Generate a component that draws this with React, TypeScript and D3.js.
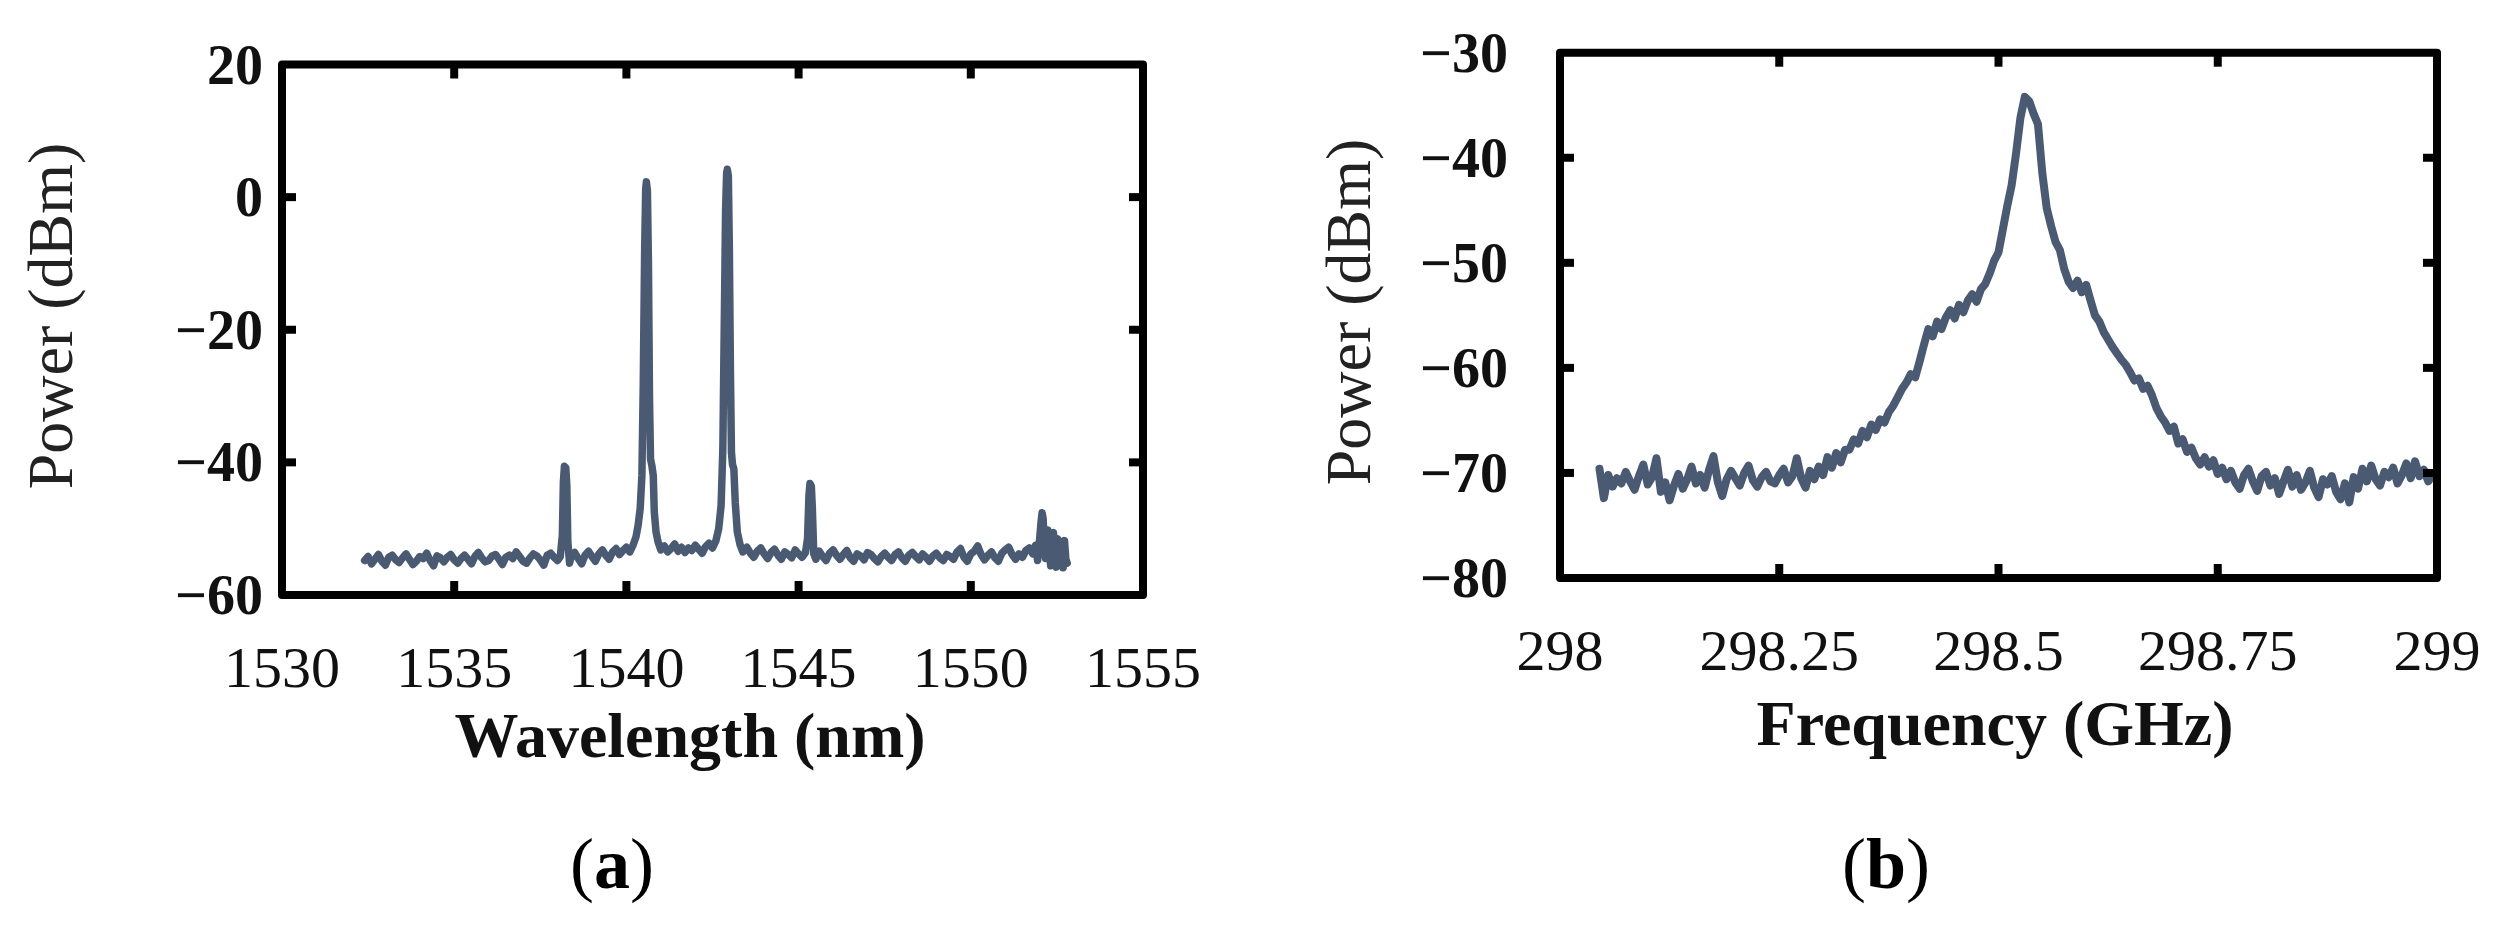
import React from 'react';
import * as d3 from 'd3';

// ---------- DATA ----------
// Panel (a): optical spectrum, [wavelength nm, power dBm]
const spectrumA: [number, number][] = [
  [1532.4,-54.8],[1532.5,-54.2],[1532.6,-55.3],[1532.7,-54.6],[1532.8,-53.9],[1532.9,-54.9],[1533.0,-55.5],[1533.1,-54.3],[1533.2,-54.0],[1533.3,-54.7],
  [1533.4,-55.1],[1533.5,-54.4],[1533.6,-53.8],[1533.7,-54.6],[1533.8,-55.4],[1533.9,-54.9],[1534.0,-54.2],[1534.1,-54.5],[1534.2,-53.7],[1534.3,-54.8],
  [1534.4,-55.6],[1534.5,-54.1],[1534.6,-54.4],[1534.7,-55.0],[1534.8,-54.3],[1534.9,-53.9],[1535.0,-54.7],[1535.1,-55.2],[1535.2,-54.5],[1535.3,-54.0],
  [1535.4,-54.6],[1535.5,-55.3],[1535.6,-54.2],[1535.7,-53.6],[1535.8,-54.4],[1535.9,-55.0],[1536.0,-54.8],[1536.1,-54.1],[1536.2,-53.9],[1536.3,-54.6],
  [1536.4,-55.4],[1536.5,-54.3],[1536.6,-54.0],[1536.7,-54.5],[1536.8,-53.5],[1536.9,-54.2],[1537.0,-54.9],[1537.1,-55.2],[1537.2,-54.4],[1537.3,-53.8],
  [1537.4,-54.1],[1537.5,-54.7],[1537.6,-55.5],[1537.7,-54.0],[1537.8,-53.7],[1537.9,-54.3],[1538.0,-54.8],
  [1538.08,-54.2],[1538.14,-51.0],[1538.17,-43.0],[1538.2,-40.6],[1538.24,-40.8],[1538.27,-43.5],[1538.3,-52.0],[1538.35,-55.2],
  [1538.4,-54.1],[1538.5,-53.6],[1538.6,-54.5],[1538.7,-55.3],[1538.8,-54.0],[1538.9,-53.4],[1539.0,-54.2],[1539.1,-54.9],[1539.2,-53.8],[1539.3,-53.2],
  [1539.4,-54.0],[1539.5,-54.6],[1539.6,-53.5],[1539.7,-53.0],[1539.8,-53.9],[1539.9,-53.3],[1540.0,-52.8],[1540.1,-53.5],[1540.2,-52.4],
  [1540.28,-51.2],[1540.34,-49.5],[1540.4,-47.0],[1540.45,-42.0],[1540.49,-28.0],[1540.53,-8.0],[1540.56,1.2],[1540.58,2.3],[1540.61,1.0],[1540.64,-10.0],
  [1540.67,-30.0],[1540.7,-39.5],[1540.74,-40.5],[1540.78,-42.0],[1540.81,-47.5],[1540.86,-50.5],[1540.92,-52.0],[1541.0,-53.2],
  [1541.1,-52.6],[1541.2,-53.5],[1541.3,-53.0],[1541.4,-52.3],[1541.5,-53.4],[1541.6,-52.8],[1541.7,-53.6],[1541.8,-52.9],[1541.9,-53.3],[1542.0,-52.5],
  [1542.1,-53.1],[1542.2,-53.7],[1542.3,-52.7],[1542.4,-52.2],[1542.5,-52.9],
  [1542.6,-51.8],[1542.68,-50.0],[1542.75,-46.5],[1542.8,-38.0],[1542.84,-20.0],[1542.88,-2.0],[1542.91,3.6],[1542.93,4.2],[1542.96,3.2],[1542.99,-8.0],
  [1543.02,-26.0],[1543.05,-38.5],[1543.08,-40.3],[1543.12,-41.0],[1543.16,-46.0],[1543.22,-50.5],[1543.3,-52.4],[1543.38,-53.5],
  [1543.5,-52.8],[1543.6,-53.7],[1543.7,-54.3],[1543.8,-53.4],[1543.9,-52.9],[1544.0,-53.8],[1544.1,-54.5],[1544.2,-53.6],[1544.3,-53.1],[1544.4,-54.0],
  [1544.5,-54.6],[1544.6,-53.5],[1544.7,-53.9],[1544.8,-54.4],[1544.9,-53.2],[1545.0,-53.8],[1545.1,-54.3],[1545.2,-53.6],
  [1545.26,-51.5],[1545.3,-45.0],[1545.33,-43.2],[1545.37,-43.6],[1545.4,-47.0],[1545.44,-53.8],[1545.5,-54.6],
  [1545.6,-53.4],[1545.7,-54.2],[1545.8,-54.8],[1545.9,-53.7],[1546.0,-53.2],[1546.1,-54.0],[1546.2,-54.6],[1546.3,-53.9],[1546.4,-53.3],[1546.5,-54.4],
  [1546.6,-54.9],[1546.7,-53.8],[1546.8,-54.1],[1546.9,-54.7],[1547.0,-53.6],[1547.1,-53.9],[1547.2,-54.5],[1547.3,-55.0],[1547.4,-54.2],[1547.5,-53.7],
  [1547.6,-54.3],[1547.7,-54.8],[1547.8,-53.9],[1547.9,-53.5],[1548.0,-54.4],[1548.1,-54.9],[1548.2,-54.0],[1548.3,-53.6],[1548.4,-54.2],[1548.5,-54.7],
  [1548.6,-53.8],[1548.7,-54.3],[1548.8,-54.9],[1548.9,-54.1],[1549.0,-53.7],[1549.1,-54.4],[1549.2,-54.8],[1549.3,-53.9],[1549.4,-54.2],[1549.5,-54.6],
  [1549.6,-53.5],[1549.7,-53.0],[1549.8,-54.3],[1549.9,-54.9],[1550.0,-53.8],[1550.1,-53.4],[1550.2,-52.6],[1550.3,-53.9],[1550.4,-54.7],[1550.5,-54.0],
  [1550.6,-53.5],[1550.7,-54.4],[1550.8,-54.9],[1550.9,-53.7],[1551.0,-53.2],[1551.1,-52.8],[1551.2,-53.9],[1551.3,-54.6],[1551.4,-53.8],[1551.5,-54.3],
  [1551.6,-53.3],[1551.7,-52.9],[1551.8,-53.8],
  [1551.88,-52.5],[1551.94,-54.8],[1552.0,-51.5],[1552.04,-49.0],[1552.07,-47.6],[1552.1,-48.5],[1552.13,-51.8],[1552.17,-54.5],[1552.2,-50.8],[1552.24,-50.2],
  [1552.28,-53.5],[1552.32,-55.6],[1552.36,-51.2],[1552.4,-50.6],[1552.44,-54.8],[1552.48,-55.8],[1552.52,-51.5],[1552.56,-52.0],[1552.6,-55.5],[1552.64,-52.2],
  [1552.68,-55.9],[1552.72,-51.8],[1552.76,-54.6],[1552.8,-55.2]
];

// Panel (b): beat-note spectrum, [frequency GHz, power dBm]
const spectrumB: [number, number][] = [
  [298.045,-69.6],[298.050,-72.4],[298.055,-70.2],[298.060,-71.3],[298.065,-70.5],[298.070,-71.0],[298.075,-69.9],[298.080,-70.8],[298.085,-71.6],[298.090,-70.3],
  [298.095,-69.2],[298.100,-71.1],[298.105,-70.4],[298.110,-68.6],[298.115,-71.8],[298.120,-70.9],[298.125,-72.6],[298.130,-71.2],[298.135,-70.1],[298.140,-71.5],
  [298.145,-70.6],[298.150,-69.4],[298.155,-71.0],[298.160,-70.2],[298.165,-71.4],[298.170,-69.7],[298.175,-68.4],[298.180,-70.9],[298.185,-72.2],[298.190,-70.6],
  [298.195,-69.8],[298.200,-70.5],[298.205,-71.2],[298.210,-70.0],[298.215,-69.3],[298.220,-70.7],[298.225,-71.3],[298.230,-70.4],[298.235,-69.9],[298.240,-70.8],
  [298.245,-71.0],[298.250,-70.2],[298.255,-69.6],[298.260,-70.9],[298.265,-70.3],[298.270,-68.6],[298.275,-70.5],[298.280,-71.4],[298.285,-69.8],[298.290,-70.6],
  [298.295,-69.4],[298.300,-70.2],[298.305,-68.5],[298.310,-69.5],[298.315,-68.1],[298.320,-69.0],[298.325,-67.8],[298.330,-67.8],[298.335,-66.8],[298.340,-67.2],
  [298.345,-66.0],[298.350,-66.6],[298.355,-65.4],[298.360,-65.9],[298.365,-64.9],[298.370,-65.2],[298.375,-64.2],[298.380,-63.6],[298.385,-62.8],[298.390,-62.0],
  [298.395,-61.4],[298.400,-60.6],[298.405,-60.9],[298.410,-59.4],[298.415,-57.8],[298.420,-56.3],[298.425,-57.0],[298.430,-55.6],[298.435,-56.3],[298.440,-55.2],
  [298.445,-54.5],[298.450,-55.3],[298.455,-54.0],[298.460,-54.7],[298.465,-53.6],[298.470,-53.0],[298.475,-53.7],[298.480,-52.5],[298.485,-52.0],[298.490,-51.0],
  [298.495,-49.8],[298.500,-49.0],[298.505,-46.8],[298.510,-44.6],[298.515,-42.6],[298.520,-39.6],[298.525,-36.2],[298.530,-34.2],[298.535,-34.6],[298.540,-35.8],
  [298.545,-36.8],[298.550,-41.5],[298.555,-44.8],[298.560,-46.5],[298.565,-48.0],[298.570,-48.8],[298.575,-50.6],[298.580,-51.8],[298.585,-52.4],[298.590,-51.7],
  [298.595,-52.8],[298.600,-52.1],[298.605,-53.6],[298.610,-55.0],[298.615,-55.6],[298.620,-56.6],[298.625,-57.3],[298.630,-58.0],[298.635,-58.6],[298.640,-59.2],
  [298.645,-59.7],[298.650,-60.4],[298.655,-61.2],[298.660,-61.0],[298.665,-62.0],[298.670,-61.7],[298.675,-62.6],[298.680,-63.8],[298.685,-64.6],[298.690,-65.2],
  [298.695,-66.0],[298.700,-65.6],[298.705,-67.2],[298.710,-66.8],[298.715,-68.0],[298.720,-67.6],[298.725,-68.6],[298.730,-69.2],[298.735,-68.5],[298.740,-69.4],
  [298.745,-68.8],[298.750,-70.1],[298.755,-69.5],[298.760,-70.6],[298.765,-69.8],[298.770,-70.9],[298.775,-71.5],[298.780,-70.2],[298.785,-69.6],[298.790,-70.8],
  [298.795,-71.7],[298.800,-70.3],[298.805,-69.9],[298.810,-71.2],[298.815,-70.5],[298.820,-72.0],[298.825,-70.8],[298.830,-69.7],[298.835,-71.3],[298.840,-70.2],
  [298.845,-71.6],[298.850,-70.9],[298.855,-69.8],[298.860,-71.4],[298.865,-72.3],[298.870,-70.6],[298.875,-71.1],[298.880,-70.3],[298.885,-71.8],[298.890,-72.5],
  [298.895,-71.0],[298.900,-72.8],[298.905,-70.4],[298.910,-71.5],[298.915,-69.6],[298.920,-70.8],[298.925,-69.3],[298.930,-70.6],[298.935,-71.2],[298.940,-69.9],
  [298.945,-70.4],[298.950,-69.5],[298.955,-71.0],[298.960,-70.2],[298.965,-69.1],[298.970,-70.5],[298.975,-68.9],[298.980,-70.3],[298.985,-69.7],[298.990,-70.8],
  [298.995,-70.2]
];

const domainAX: [number, number] = [1530, 1555];
const domainAY: [number, number] = [-60, 20];
const ticksAX = [1530, 1535, 1540, 1545, 1550, 1555];
const ticksAY = [20, 0, -20, -40, -60];

const domainBX: [number, number] = [298, 299];
const domainBY: [number, number] = [-80, -30];
const ticksBX = [298, 298.25, 298.5, 298.75, 299];
const ticksBXLabels = ['298', '298.25', '298.5', '298.75', '299'];
const ticksBY = [-30, -40, -50, -60, -70, -80];

// ---------- STYLE ----------
const FONT = '"Liberation Serif", "Times New Roman", serif';
const LINE = '#4a5a73';

const fmtNeg = (v: number) => (v < 0 ? '\u2212' + Math.abs(v) : String(v));

type PanelProps = {
  data: [number, number][];
  dx: [number, number];
  dy: [number, number];
  box: { x0: number; x1: number; y0: number; y1: number };
  xt: number[];
  xtLabels: string[];
  yt: number[];
  xLabelY: number;
  yLabelX: number;
  xTitle: string;
  xTitleX: number;
  xTitleY: number;
  yTitleX: number;
  yTitleY: number;
  tag: string;
  tagX: number;
  lineW: number;
  axisW: number;
};

function Panel(p: PanelProps) {
  const x = d3.scaleLinear().domain(p.dx).range([p.box.x0, p.box.x1]);
  const y = d3.scaleLinear().domain(p.dy).range([p.box.y1, p.box.y0]);
  const line = d3.line<[number, number]>().x(d => x(d[0])).y(d => y(d[1]));
  const tickLen = 14;
  const innerX = p.xt.filter(v => v > p.dx[0] && v < p.dx[1]);
  const innerY = p.yt.filter(v => v > p.dy[0] && v < p.dy[1]);
  return (
    <g>
      <path d={line(p.data) || ''} fill="none" stroke={LINE} strokeWidth={p.lineW} strokeLinejoin="round" strokeLinecap="round" />
      <rect x={p.box.x0} y={p.box.y0} width={p.box.x1 - p.box.x0} height={p.box.y1 - p.box.y0}
        fill="none" stroke="#000" strokeWidth={p.axisW} strokeLinejoin="round" />
      {innerX.map(v => (
        <g key={'tx' + v}>
          <line x1={x(v)} x2={x(v)} y1={p.box.y1} y2={p.box.y1 - tickLen} stroke="#000" strokeWidth={p.axisW} />
          <line x1={x(v)} x2={x(v)} y1={p.box.y0} y2={p.box.y0 + tickLen} stroke="#000" strokeWidth={p.axisW} />
        </g>
      ))}
      {innerY.map(v => (
        <g key={'ty' + v}>
          <line x1={p.box.x0} x2={p.box.x0 + tickLen} y1={y(v)} y2={y(v)} stroke="#000" strokeWidth={p.axisW} />
          <line x1={p.box.x1} x2={p.box.x1 - tickLen} y1={y(v)} y2={y(v)} stroke="#000" strokeWidth={p.axisW} />
        </g>
      ))}
      {p.xt.map((v, i) => (
        <text key={'lx' + v} x={x(v)} y={p.xLabelY} textAnchor="middle" fontFamily={FONT} fontSize={58} fill="#111">
          {p.xtLabels[i]}
        </text>
      ))}
      {p.yt.map(v => (
        <text key={'ly' + v} x={p.yLabelX} y={y(v) + 19} textAnchor="end" fontFamily={FONT} fontSize={56} fontWeight="bold" fill="#111">
          {fmtNeg(v)}
        </text>
      ))}
      <text x={p.xTitleX} y={p.xTitleY} textAnchor="middle" fontFamily={FONT} fontSize={64} fontWeight="bold" fill="#111">
        {p.xTitle}
      </text>
      <text transform={`translate(${p.yTitleX},${p.yTitleY}) rotate(-90)`} textAnchor="middle" fontFamily={FONT} fontSize={64} fill="#222">
        Power (dBm)
      </text>
      <text x={p.tagX} y={888} textAnchor="middle" fontFamily={FONT} fontSize={72} fill="#000">
        (<tspan fontWeight="bold">{p.tag}</tspan>)
      </text>
    </g>
  );
}

export default function App() {
  return (
    <svg width={2502} height={925} viewBox="0 0 2502 925" style={{ position: 'absolute', left: 0, top: 0, background: '#fff' }}>
      <rect x={0} y={0} width={2502} height={925} fill="#fff" />
      <Panel
        data={spectrumA} dx={domainAX} dy={domainAY}
        box={{ x0: 282, x1: 1143, y0: 64.5, y1: 595 }}
        xt={ticksAX} xtLabels={ticksAX.map(String)} yt={ticksAY}
        xLabelY={687} yLabelX={263}
        xTitle="Wavelength (nm)" xTitleX={690} xTitleY={757}
        yTitleX={72} yTitleY={316}
        tag="a" tagX={612} lineW={7.5} axisW={8}
      />
      <Panel
        data={spectrumB} dx={domainBX} dy={domainBY}
        box={{ x0: 1560, x1: 2437, y0: 52.7, y1: 578 }}
        xt={ticksBX} xtLabels={ticksBXLabels} yt={ticksBY}
        xLabelY={670} yLabelX={1508}
        xTitle="Frequency (GHz)" xTitleX={1995} xTitleY={745}
        yTitleX={1370} yTitleY={312}
        tag="b" tagX={1886} lineW={8} axisW={8}
      />
    </svg>
  );
}
